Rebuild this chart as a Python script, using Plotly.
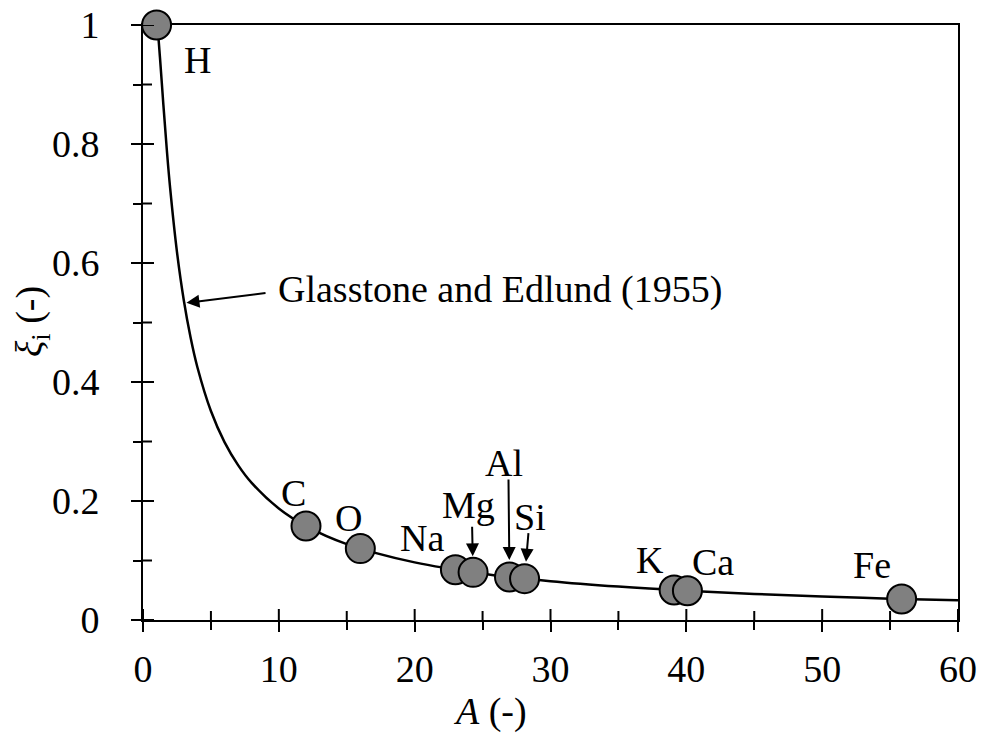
import plotly.graph_objects as go

# Curve: Glasstone and Edlund (1955)
curve_A = [1, 1.1, 1.25, 1.5, 1.75, 2, 2.5, 3, 3.5, 4, 5, 6, 7, 8, 10, 12, 15,
           20, 25, 30, 35, 40, 45, 50, 55, 60]
curve_xi = [1.0, 0.9862, 0.9451, 0.8659, 0.7912, 0.7253, 0.6187, 0.5379, 0.4752,
            0.4253, 0.3512, 0.2990, 0.2603, 0.2304, 0.1873, 0.1578, 0.1276,
            0.0968, 0.0779, 0.0652, 0.0561, 0.0492, 0.0438, 0.0395, 0.0359, 0.0330]

# Elements
elements = ["H", "C", "O", "Na", "Mg", "Al", "Si", "K", "Ca", "Fe"]
elem_A = [1.0, 12.0, 16.0, 23.0, 24.3, 26.98, 28.09, 39.1, 40.08, 55.85]
elem_xi = [1.0, 0.158, 0.120, 0.0845, 0.0801, 0.0723, 0.0695, 0.0503, 0.0491, 0.0354]

x_ticks = [0, 10, 20, 30, 40, 50, 60]
x_minor_ticks = [5, 15, 25, 35, 45, 55]
y_ticks = [0, 0.2, 0.4, 0.6, 0.8, 1.0]
y_minor_ticks = [0.1, 0.3, 0.5, 0.7, 0.9]
y_tick_text = ["0", "0.2", "0.4", "0.6", "0.8", "1"]

FONT = "Liberation Serif"
FS = 38

W, H = 984, 733
ML, MR, MT, MB = 143, 26, 25, 113
pw, ph = W - ML - MR, H - MT - MB

# label offsets in px relative to each marker (style only)
label_shift = {
    "H": (41, -35), "C": (-13, 33), "O": (-12, 31), "Na": (-33, 32),
    "Mg": (-5, 67), "Al": (-5, 114), "Si": (5, 62), "K": (-24, 30),
    "Ca": (26, 29), "Fe": (-30, 34),
}
# arrows for crowded labels: (ax, ay, standoff)
arrow_spec = {"Mg": (-1, -47, 16), "Al": (-1, -99, 17), "Si": (4, -47, 17)}

fig = go.Figure()
fig.add_trace(go.Scatter(x=curve_A, y=curve_xi, mode="lines",
                         line=dict(color="black", width=2.5, shape="spline"),
                         showlegend=False, hoverinfo="skip"))
fig.add_trace(go.Scatter(x=elem_A, y=elem_xi, mode="markers",
                         marker=dict(size=29, color="#808080",
                                     line=dict(color="black", width=2)),
                         cliponaxis=False, showlegend=False))

# inside halves of the crossing tick marks (outside halves are the axis ticks)
shapes = []
for v, ln in [(t, 11) for t in x_ticks] + [(t, 9) for t in x_minor_ticks]:
    shapes.append(dict(type="line", xref="x", yref="y", x0=v, x1=v,
                       ysizemode="pixel", yanchor=0, y0=0, y1=ln,
                       line=dict(color="black", width=2), layer="above"))
for v, ln in [(t, 11) for t in y_ticks] + [(t, 9) for t in y_minor_ticks]:
    shapes.append(dict(type="line", xref="x", yref="y", y0=v, y1=v,
                       xsizemode="pixel", xanchor=0, x0=0, x1=ln,
                       line=dict(color="black", width=2), layer="above"))

annotations = []
for name, a, xi in zip(elements, elem_A, elem_xi):
    dx, dy = label_shift[name]
    annotations.append(dict(x=a, y=xi, text=name, showarrow=False,
                            xshift=dx, yshift=dy,
                            font=dict(family=FONT, size=FS, color="black")))
    if name in arrow_spec:
        ax, ay, so = arrow_spec[name]
        annotations.append(dict(x=a, y=xi, text="", showarrow=True,
                                ax=ax, ay=ay, standoff=so,
                                arrowhead=2, arrowsize=1.3, arrowwidth=2,
                                arrowcolor="black"))
# Glasstone and Edlund label with arrow
annotations.append(dict(x=3.2, y=0.533, ax=9.13, ay=0.550, axref="x", ayref="y",
                        xref="x", yref="y", text="", showarrow=True,
                        arrowhead=2, arrowsize=1.3, arrowwidth=2, arrowcolor="black"))
annotations.append(dict(x=9.8, y=0.555, xref="x", yref="y", xanchor="left",
                        text="Glasstone and Edlund (1955)", showarrow=False,
                        font=dict(family=FONT, size=FS, color="black")))
# axis titles (given in page pixels, converted to paper fractions)
annotations.append(dict(x=(490 - ML) / pw, y=(H - MB - 712) / ph,
                        xref="paper", yref="paper", showarrow=False,
                        xanchor="center", yanchor="middle",
                        text="<i>A</i> (-)", font=dict(family=FONT, size=FS, color="black")))
annotations.append(dict(x=(32 - ML) / pw, y=(H - MB - 322) / ph,
                        xref="paper", yref="paper", showarrow=False,
                        xanchor="center", yanchor="middle",
                        text="<i>ξ</i><sub>i</sub> (-)", textangle=-90,
                        font=dict(family=FONT, size=FS, color="black")))

fig.update_layout(
    width=W, height=H,
    margin=dict(l=ML, r=MR, t=MT, b=MB, autoexpand=False),
    paper_bgcolor="white", plot_bgcolor="white",
    font=dict(family=FONT, size=FS, color="black"),
    annotations=annotations,
    shapes=shapes,
    xaxis=dict(range=[0, 60], showgrid=False, zeroline=False, showline=True,
               linecolor="black", linewidth=2, automargin=False, fixedrange=True,
               layer="below traces", tickmode="array", tickvals=x_ticks,
               ticktext=[str(v) for v in x_ticks], ticks="outside", ticklen=10,
               tickwidth=2, tickcolor="black", mirror=True, ticklabelstandoff=4,
               minor=dict(tickmode="array", tickvals=x_minor_ticks, ticks="outside",
                          ticklen=8, tickwidth=2, tickcolor="black"),
               tickfont=dict(family=FONT, size=FS)),
    yaxis=dict(range=[0, 1], showgrid=False, zeroline=False, showline=True,
               linecolor="black", linewidth=2, automargin=False, fixedrange=True,
               layer="below traces", tickmode="array", tickvals=y_ticks,
               ticktext=y_tick_text, ticks="outside", ticklen=10, tickwidth=2,
               tickcolor="black", mirror=True, ticklabelstandoff=24,
               minor=dict(tickmode="array", tickvals=y_minor_ticks, ticks="outside",
                          ticklen=8, tickwidth=2, tickcolor="black"),
               tickfont=dict(family=FONT, size=FS)),
)

fig.write_html("out.html")
